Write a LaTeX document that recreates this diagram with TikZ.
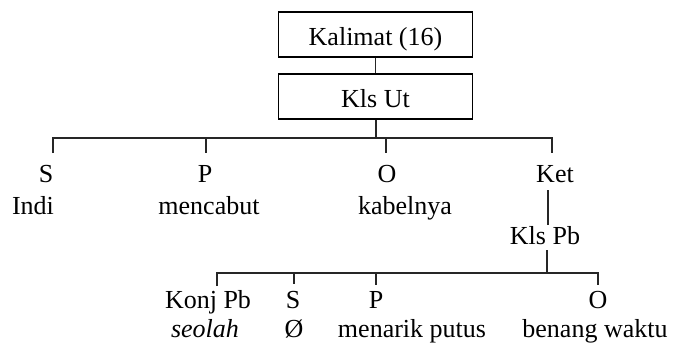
\documentclass[tikz,border=0pt]{standalone}
\usepackage{fontspec}
\setmainfont{Liberation Serif}
\begin{document}
\begin{tikzpicture}[x=1pt,y=-1pt,
  txt/.style={font=\fontsize{26}{30}\selectfont, inner sep=0pt, anchor=base},
  boxnode/.style={draw=black, line width=1.4pt, font=\fontsize{26}{30}\selectfont,
    minimum width=194pt, minimum height=45pt, inner sep=0pt,
    text height=21pt, text depth=0pt},
  link/.style={draw=black!85, line width=1.3pt}]
\useasboundingbox (0,0) rectangle (674,343);
% boxes
\node[boxnode] (kal) at (375.5,34.5) {Kalimat (16)};
\node[boxnode] (ut) at (375.5,96.5) {Kls Ut};
% first level labels
\node[txt] (s1) at (46,182) {S};
\node[txt] (p1) at (205,182) {P};
\node[txt] (o1) at (387,182) {O};
\node[txt] (ket) at (555,182) {Ket};
\node[txt] (indi) at (33,214) {Indi};
\node[txt] (mencabut) at (209,214) {mencabut};
\node[txt] (kabel) at (405,214) {kabelnya};
\node[txt] (klspb) at (545,244) {Kls Pb};
% second level labels
\node[txt] (konj) at (208,308) {Konj Pb};
\node[txt] (s2) at (293,308) {S};
\node[txt] (p2) at (376,308) {P};
\node[txt] (o2) at (598,308) {O};
\node[txt] (seolah) at (205,337) {\itshape seolah};
\node[txt] (nol) at (294,337) {Ø};
\node[txt] (menarik) at (412,337) {menarik putus};
\node[txt] (benang) at (595,337) {benang waktu};
% junction coordinates
\coordinate (b1) at (376,138);
\coordinate (b1l) at (53,138);
\coordinate (b1r) at (552,138);
\coordinate (t1s) at (53,153);
\coordinate (b1p) at (206,138);
\coordinate (t1p) at (206,153);
\coordinate (b1o) at (386,138);
\coordinate (t1o) at (386,153);
\coordinate (t1k) at (552,153);
\coordinate (kd1) at (548,190);
\coordinate (kd2) at (548,225);
\coordinate (pbd) at (547,250);
\coordinate (b2) at (547,273);
\coordinate (b2l) at (217,273);
\coordinate (b2r) at (598,273);
\coordinate (t2k) at (217,286);
\coordinate (b2s) at (294,273);
\coordinate (t2s) at (294,284);
\coordinate (b2p) at (376,273);
\coordinate (t2p) at (376,285);
\coordinate (t2o) at (598,285);
% connectors
\draw[link] (kal.south) -- (ut.north);
\draw[link] (ut.south -| b1) -- (b1);
\draw[link] (t1s) -- (b1l) -- (b1r) -- (t1k);
\draw[link] (b1p) -- (t1p);
\draw[link] (b1o) -- (t1o);
\draw[link] (kd1) -- (kd2);
\draw[link] (pbd) -- (b2);
\draw[link] (t2k) -- (b2l) -- (b2r) -- (t2o);
\draw[link] (b2s) -- (t2s);
\draw[link] (b2p) -- (t2p);
\end{tikzpicture}
\end{document}
